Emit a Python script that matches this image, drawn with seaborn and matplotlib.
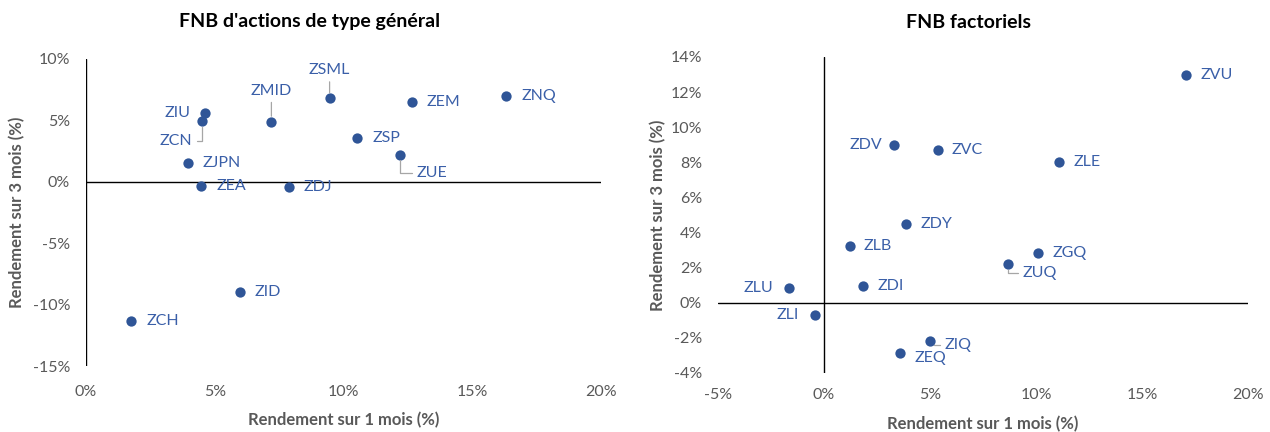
import matplotlib
matplotlib.use("Agg")
import matplotlib.pyplot as plt
import seaborn as sns
import pandas as pd
from matplotlib.ticker import PercentFormatter, MultipleLocator

# data (percent)
left_names = ["ZIU", "ZCN", "ZJPN", "ZEA", "ZMID", "ZDJ", "ZSML", "ZEM", "ZNQ", "ZSP", "ZUE", "ZID", "ZCH"]
left_x = [4.64, 4.52, 3.97, 4.47, 7.20, 7.88, 9.46, 12.65, 16.33, 10.53, 12.21, 5.98, 1.75]
left_y = [5.59, 4.94, 1.52, -0.38, 4.89, -0.44, 6.81, 6.46, 7.00, 3.59, 2.22, -8.94, -11.36]

right_names = ["ZVU", "ZDV", "ZVC", "ZLE", "ZDY", "ZLB", "ZGQ", "ZUQ", "ZDI", "ZLU", "ZLI", "ZIQ", "ZEQ"]
right_x = [17.06, 3.30, 5.37, 11.09, 3.87, 1.25, 10.08, 8.66, 1.85, -1.65, -0.44, 5.02, 3.58]
right_y = [12.95, 9.01, 8.73, 8.00, 4.51, 3.22, 2.84, 2.20, 0.95, 0.82, -0.72, -2.17, -2.87]

# label offsets in pixels (dx, dy, ha, leader)
offsets = {
    "ZIU": (-15, 0, "right", False), "ZCN": (-10, -20, "right", True),
    "ZJPN": (14, 0, "left", False), "ZEA": (15, 0, "left", False),
    "ZMID": (0, 31, "center", True), "ZDJ": (15, 0, "left", False),
    "ZSML": (0, 28, "center", True), "ZEM": (15, 0, "left", False),
    "ZNQ": (15, 0, "left", False), "ZSP": (15, 0, "left", False),
    "ZUE": (16, -18, "left", True), "ZID": (15, 0, "left", False),
    "ZCH": (15, 0, "left", False),
    "ZVU": (15, 0, "left", False), "ZDV": (-12, 0, "right", False),
    "ZVC": (14, 0, "left", False), "ZLE": (14, 0, "left", False),
    "ZDY": (15, 0, "left", False), "ZLB": (13, 0, "left", False),
    "ZGQ": (15, 0, "left", False), "ZUQ": (15, -9, "left", True),
    "ZDI": (14, 0, "left", False), "ZLU": (-16, 0, "right", False),
    "ZLI": (-16, 0, "right", False), "ZIQ": (14, -4, "left", True),
    "ZEQ": (15, -5, "left", False),
}

blue = "#2F5597"
label_blue = "#3A5FA8"
grey = "#595959"

sns.set_style("white")
plt.rcParams["font.family"] = ["Lato", "DejaVu Sans"]
plt.rcParams["axes.unicode_minus"] = False

W, H = 1270, 432
fig = plt.figure(figsize=(12.7, 4.32), dpi=100)
ax1 = fig.add_axes([86 / W, (H - 366) / H, 515 / W, 307 / H])
ax2 = fig.add_axes([718 / W, (H - 373) / H, 530 / W, 316 / H])


def draw(ax, names, xs, ys, xlim, ylim, ystep, xpad, xlab_y, ylab_x):
    df = pd.DataFrame({"name": names, "x": xs, "y": ys})
    sns.scatterplot(data=df, x="x", y="y", ax=ax, color=blue, s=55,
                    edgecolor=blue, linewidth=0, zorder=3)
    for n, x, y in zip(names, xs, ys):
        dx, dy, ha, leader = offsets[n]
        ap = None
        if leader:
            ap = dict(arrowstyle="-", color="#a6a6a6", lw=0.9, shrinkA=1, shrinkB=4)
            if dy != 0 and dx != 0:
                ap["connectionstyle"] = "angle,angleA=0,angleB=90,rad=0"
        ax.annotate(n, (x, y), xytext=(dx * 0.72, dy * 0.72),
                    textcoords="offset points", ha=ha, va="center",
                    fontsize=11.5, color=label_blue, arrowprops=ap)
    ax.set_xlim(*xlim)
    ax.set_ylim(*ylim)
    ax.xaxis.set_major_locator(MultipleLocator(5))
    ax.yaxis.set_major_locator(MultipleLocator(ystep))
    ax.xaxis.set_major_formatter(PercentFormatter(decimals=0))
    ax.yaxis.set_major_formatter(PercentFormatter(decimals=0))
    for s in ax.spines.values():
        s.set_visible(False)
    ax.axhline(0, color="black", lw=1, zorder=1)
    ax.axvline(0, color="black", lw=1, zorder=1)
    ax.tick_params(length=0, labelsize=11.5, labelcolor=grey)
    ax.tick_params(axis="y", pad=11.5)
    ax.tick_params(axis="x", pad=xpad)
    ax.set_xlabel("Rendement sur 1 mois (%)", fontsize=12, fontweight="bold",
                  color=grey, va="center")
    ax.set_ylabel("Rendement sur 3 mois (%)", fontsize=12, fontweight="bold",
                  color=grey, va="center")
    ax.xaxis.set_label_coords(0.5, xlab_y)
    ax.yaxis.set_label_coords(ylab_x, 0.5)


draw(ax1, left_names, left_x, left_y, (0, 20), (-15, 10), 5,
     14, -54 / 307, -69 / 515)
draw(ax2, right_names, right_x, right_y, (-5, 20), (-4, 14), 2,
     11, -51 / 316, -60 / 530)

fig.text(310 / W, 1 - 22 / H, "FNB d'actions de type général", ha="center",
         va="center", fontsize=14, fontweight="bold", color="black")
fig.text(969 / W, 1 - 22 / H, "FNB factoriels", ha="center",
         va="center", fontsize=14, fontweight="bold", color="black")

fig.savefig("out.png", dpi=100)
